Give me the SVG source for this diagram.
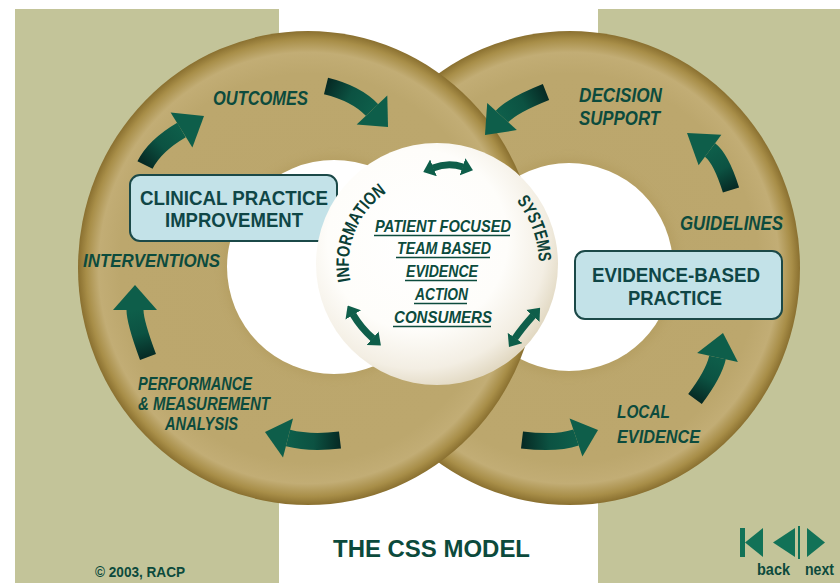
<svg xmlns="http://www.w3.org/2000/svg" width="840" height="583" viewBox="0 0 840 583">
<defs>
<style>
.lbl{font-family:"Liberation Sans",Arial,sans-serif;font-weight:bold;font-style:italic;fill:#0c4b3d;}
.box{fill:#c3e2e8;stroke:#1b4948;stroke-width:2;}
.boxt{font-family:"Liberation Sans",Arial,sans-serif;font-weight:bold;font-size:20px;fill:#0f4646;}
.ctr{font-family:"Liberation Sans",Arial,sans-serif;font-weight:bold;font-style:italic;font-size:17px;fill:#0c4b3d;}
.ul{stroke:#0c4b3d;stroke-width:1.4;}
.arc{font-family:"Liberation Sans",Arial,sans-serif;font-weight:bold;font-size:18px;fill:#0b3f36;}
.shaft{fill:none;stroke-width:17;}
.head{fill:#0e5e4a;}
.dbl{fill:none;stroke:#0e5e4a;stroke-width:7;marker-start:url(#dh);marker-end:url(#dh);}
.nav{fill:#127257;}
.foot{font-family:"Liberation Sans",Arial,sans-serif;font-weight:bold;fill:#0c4a3c;}
</style>
<radialGradient id="ring">
<stop offset="0" stop-color="#bba66c"/>
<stop offset="0.82" stop-color="#bca76d"/>
<stop offset="0.91" stop-color="#c2ad75"/>
<stop offset="0.965" stop-color="#a88e48"/>
<stop offset="1" stop-color="#8a7030"/>
</radialGradient>
<radialGradient id="ball" cx="0.42" cy="0.4" r="0.62">
<stop offset="0" stop-color="#ffffff"/>
<stop offset="0.6" stop-color="#fefdfa"/>
<stop offset="0.86" stop-color="#f3eee3"/>
<stop offset="1" stop-color="#e2d9c3"/>
</radialGradient>
<filter id="soft" x="-20%" y="-20%" width="140%" height="140%"><feGaussianBlur stdDeviation="4"/></filter>
<marker id="dh" viewBox="0 0 11 18" refX="0.5" refY="9" markerWidth="11" markerHeight="18" markerUnits="userSpaceOnUse" orient="auto-start-reverse">
<path d="M0,0 L11,9 L0,18 Z" fill="#0e5e4a"/>
</marker>
<linearGradient id="g1" gradientUnits="userSpaceOnUse" x1="145" y1="165" x2="181" y2="130"><stop offset="0" stop-color="#062a24"/><stop offset="0.5" stop-color="#0c5242"/><stop offset="1" stop-color="#0e5e4a"/></linearGradient>
<linearGradient id="g2" gradientUnits="userSpaceOnUse" x1="326" y1="86" x2="372" y2="110"><stop offset="0" stop-color="#062a24"/><stop offset="0.5" stop-color="#0c5242"/><stop offset="1" stop-color="#0e5e4a"/></linearGradient>
<linearGradient id="g3" gradientUnits="userSpaceOnUse" x1="546" y1="92" x2="502" y2="116"><stop offset="0" stop-color="#062a24"/><stop offset="0.5" stop-color="#0c5242"/><stop offset="1" stop-color="#0e5e4a"/></linearGradient>
<linearGradient id="g4" gradientUnits="userSpaceOnUse" x1="731" y1="190" x2="710" y2="150"><stop offset="0" stop-color="#062a24"/><stop offset="0.5" stop-color="#0c5242"/><stop offset="1" stop-color="#0e5e4a"/></linearGradient>
<linearGradient id="g5" gradientUnits="userSpaceOnUse" x1="695" y1="399" x2="717" y2="357"><stop offset="0" stop-color="#062a24"/><stop offset="0.5" stop-color="#0c5242"/><stop offset="1" stop-color="#0e5e4a"/></linearGradient>
<linearGradient id="g6" gradientUnits="userSpaceOnUse" x1="522" y1="440" x2="576" y2="437"><stop offset="0" stop-color="#062a24"/><stop offset="0.5" stop-color="#0c5242"/><stop offset="1" stop-color="#0e5e4a"/></linearGradient>
<linearGradient id="g7" gradientUnits="userSpaceOnUse" x1="340" y1="440" x2="288" y2="438"><stop offset="0" stop-color="#062a24"/><stop offset="0.5" stop-color="#0c5242"/><stop offset="1" stop-color="#0e5e4a"/></linearGradient>
<linearGradient id="g8" gradientUnits="userSpaceOnUse" x1="148" y1="357" x2="135" y2="310"><stop offset="0" stop-color="#062a24"/><stop offset="0.5" stop-color="#0c5242"/><stop offset="1" stop-color="#0e5e4a"/></linearGradient>
<path id="infoArc" d="M352,287.8 A87,87 0 0 1 414.2,180"/>
<path id="sysArc" d="M505.3,189.2 A102,102 0 0 1 538,279.2"/>
</defs>

<!-- background -->
<rect width="840" height="583" fill="#ffffff"/>
<rect x="15" y="9" width="264" height="574" fill="#c3c499"/>
<rect x="598" y="9" width="242" height="574" fill="#c3c499"/>

<!-- rings -->
<g id="ring-right">
<ellipse cx="570" cy="268" rx="230" ry="237" fill="url(#ring)"/>
<circle cx="569" cy="267" r="109" fill="#a48b4a" opacity="0.25" filter="url(#soft)"/>
<circle cx="569" cy="267" r="104" fill="#ffffff"/>
</g>
<g id="ring-left">
<ellipse cx="308" cy="268" rx="230" ry="237" fill="url(#ring)"/>
<circle cx="334" cy="267" r="111" fill="#a48b4a" opacity="0.25" filter="url(#soft)"/>
<circle cx="334" cy="267" r="107" fill="#ffffff"/>
</g>

<!-- boxes -->
<g id="cpi">
<rect class="box" x="130" y="175" width="207" height="66" rx="10"/>
<text class="boxt" x="140" y="205" textLength="188" lengthAdjust="spacingAndGlyphs">CLINICAL PRACTICE</text>
<text class="boxt" x="165" y="227" textLength="138" lengthAdjust="spacingAndGlyphs">IMPROVEMENT</text>
</g>
<g id="ebp">
<rect class="box" x="575" y="251" width="207" height="68" rx="10"/>
<text class="boxt" x="592" y="282" textLength="168" lengthAdjust="spacingAndGlyphs">EVIDENCE-BASED</text>
<text class="boxt" x="628" y="305" textLength="94" lengthAdjust="spacingAndGlyphs">PRACTICE</text>
</g>

<!-- centre -->
<g id="centre">
<circle cx="437" cy="264" r="121" fill="url(#ball)"/>
<text class="ctr" x="375" y="232" textLength="136" lengthAdjust="spacingAndGlyphs">PATIENT FOCUSED</text>
<line class="ul" x1="374" y1="235.5" x2="510" y2="235.5"/>
<text class="ctr" x="397" y="254" textLength="94" lengthAdjust="spacingAndGlyphs">TEAM BASED</text>
<line class="ul" x1="396" y1="257.5" x2="490" y2="257.5"/>
<text class="ctr" x="406" y="277" textLength="72" lengthAdjust="spacingAndGlyphs">EVIDENCE</text>
<line class="ul" x1="405" y1="280.5" x2="477" y2="280.5"/>
<text class="ctr" x="415" y="300" textLength="53" lengthAdjust="spacingAndGlyphs">ACTION</text>
<line class="ul" x1="414" y1="303.5" x2="467" y2="303.5"/>
<text class="ctr" x="394" y="323" textLength="98" lengthAdjust="spacingAndGlyphs">CONSUMERS</text>
<line class="ul" x1="393" y1="326.5" x2="491" y2="326.5"/>
</g>
<g id="information">
<text class="arc"><textPath href="#infoArc" startOffset="7" textLength="101" lengthAdjust="spacingAndGlyphs">INFORMATION</textPath></text>
</g>
<g id="systems">
<text class="arc"><textPath href="#sysArc" startOffset="16" textLength="66" lengthAdjust="spacingAndGlyphs">SYSTEMS</textPath></text>
</g>

<!-- labels -->
<g id="outcomes"><text class="lbl" font-size="20" x="213" y="105" textLength="95" lengthAdjust="spacingAndGlyphs">OUTCOMES</text></g>
<g id="decision-support">
<text class="lbl" font-size="20" x="579" y="102" textLength="83" lengthAdjust="spacingAndGlyphs">DECISION</text>
<text class="lbl" font-size="20" x="579" y="125" textLength="81" lengthAdjust="spacingAndGlyphs">SUPPORT</text>
</g>
<g id="guidelines"><text class="lbl" font-size="20" x="680" y="230" textLength="103" lengthAdjust="spacingAndGlyphs">GUIDELINES</text></g>
<g id="local-evidence">
<text class="lbl" font-size="19" x="617" y="418" textLength="53" lengthAdjust="spacingAndGlyphs">LOCAL</text>
<text class="lbl" font-size="19" x="617" y="443" textLength="83" lengthAdjust="spacingAndGlyphs">EVIDENCE</text>
</g>
<g id="performance">
<text class="lbl" font-size="18" x="138" y="390" textLength="114" lengthAdjust="spacingAndGlyphs">PERFORMANCE</text>
<text class="lbl" font-size="18" x="138" y="410" textLength="132" lengthAdjust="spacingAndGlyphs">&amp; MEASUREMENT</text>
<text class="lbl" font-size="18" x="165" y="430" textLength="73" lengthAdjust="spacingAndGlyphs">ANALYSIS</text>
</g>
<g id="interventions"><text class="lbl" font-size="19" x="83" y="267" textLength="137" lengthAdjust="spacingAndGlyphs">INTERVENTIONS</text></g>

<!-- connectors -->
<g id="connectors">
<path class="shaft" stroke="url(#g1)" d="M145,165 Q154.8,145.6 181.5,130"/>
<path class="head" d="M192.4,147.4 L204,116 L170.6,112.6 Z"/>
<path class="shaft" stroke="url(#g2)" d="M326,86 Q356.4,93.5 372,110"/>
<path class="head" d="M356.7,124.5 L388,127 L387.3,95.5 Z"/>
<path class="shaft" stroke="url(#g3)" d="M546,92 Q512.1,105.5 502,116.5"/>
<path class="head" d="M516.8,130.1 L485,135 L487.2,102.9 Z"/>
<path class="shaft" stroke="url(#g4)" d="M731,190 Q721,158.3 710,150"/>
<path class="head" d="M721.4,134.8 L687,133 L698.6,165.2 Z"/>
<path class="shaft" stroke="url(#g5)" d="M695,399 Q713.8,374 717.5,357.5"/>
<path class="head" d="M737.9,362.1 L723,333 L697.1,352.9 Z"/>
<path class="shaft" stroke="url(#g6)" d="M522,440 Q556.3,444.1 576,437.5"/>
<path class="head" d="M582.4,456.5 L598,430 L569.6,418.5 Z"/>
<path class="shaft" stroke="url(#g7)" d="M340,440 Q309.8,443.6 288,438"/>
<path class="head" d="M293,418.6 L265,432 L283,457.4 Z"/>
<path class="shaft" stroke="url(#g8)" d="M148,357 Q135,322 135,310"/>
<path class="head" d="M113,310 L135,285 L157,310 Z"/>
<path class="dbl" d="M433,168 Q448,162 463,167"/>
<path class="dbl" d="M353,314.5 Q361,328 373,338.5"/>
<path class="dbl" d="M533.1,315.6 Q522,328 514.9,338.4"/>
</g>

<!-- footer -->
<g id="title"><text class="foot" font-size="24" x="333" y="557" textLength="197" lengthAdjust="spacingAndGlyphs" fill="#0d4040">THE CSS MODEL</text></g>
<g id="copyright"><text class="foot" font-size="15" x="95" y="577" textLength="90" lengthAdjust="spacingAndGlyphs">© 2003, RACP</text></g>
<g id="nav">
<rect class="nav" x="740" y="528" width="5" height="29"/>
<path class="nav" d="M763,528 L763,557 L745,542.5 Z"/>
<path class="nav" d="M795,528 L795,557 L773,542.5 Z"/>
<rect class="nav" x="798" y="526" width="2" height="33"/>
<path class="nav" d="M807,528 L807,557 L825,542.5 Z"/>
<text class="foot" font-size="17" font-weight="normal" x="757" y="575" textLength="33" lengthAdjust="spacingAndGlyphs">back</text>
<text class="foot" font-size="17" font-weight="normal" x="805" y="575" textLength="29" lengthAdjust="spacingAndGlyphs">next</text>
</g>
</svg>
